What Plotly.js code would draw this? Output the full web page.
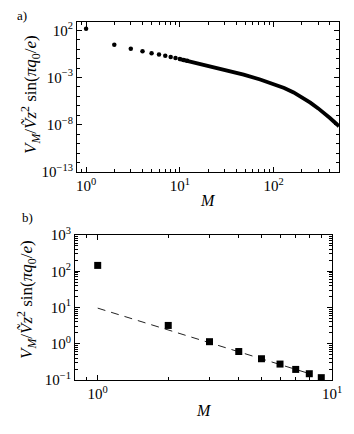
<!DOCTYPE html>
<html><head><meta charset="utf-8">
<script src="https://cdn.plot.ly/plotly-3.0.1.min.js"></script>
<style>html,body{margin:0;padding:0;background:#fff}</style>
</head><body><div id="chart" style="width:354px;height:434px"></div>
<script>
// Panel a): individual points (small M) and the dense continuation (merged dots)
const dotsM = [1, 2, 3, 4, 5, 6, 7, 8, 9, 10, 11, 12];
const dotsV = [145, 3.0, 1.12, 0.60, 0.38, 0.27, 0.20, 0.15, 0.117, 0.09, 0.074, 0.061];
const curveM = [10, 15, 21, 27, 35, 48, 72, 100, 130, 164, 200, 247, 300, 343, 400, 477, 500];
const curveV = [0.09, 0.0358, 0.0165, 0.00904, 0.00472, 0.00204, 6.3e-4, 2.19e-4, 7.66e-5, 2.63e-5, 8.65e-6, 2.19e-6, 5.41e-7, 1.9e-7, 5.22e-8, 1.07e-8, 6.82e-9];
// Panel b): squares and dashed guide line
const sqM = [1, 2, 3, 4, 5, 6, 7, 8, 9];
const sqV = [145, 3.2, 1.14, 0.61, 0.386, 0.275, 0.196, 0.149, 0.116];
const fitM = [1, 8.2];
const fitV = [9.6, 0.143];
// Tick labels
const aXTicks = [1, 10, 100];
const aXText = ['10<sup>0</sup>', '10<sup>1</sup>', '10<sup>2</sup>'];
const aYTicks = [1e-13, 1e-8, 1e-3, 1e2];
const aYText = ['10<sup>\u221213</sup>', '10<sup>\u22128</sup>', '10<sup>\u22123</sup>', '10<sup>2</sup>'];
const bXTicks = [1, 10];
const bXText = ['10<sup>0</sup>', '10<sup>1</sup>'];
const bYTicks = [0.1, 1, 10, 100, 1000];
const bYText = ['10<sup>\u22121</sup>', '10<sup>0</sup>', '10<sup>1</sup>', '10<sup>2</sup>', '10<sup>3</sup>'];

const W = 354, H = 434;
const FAM = 'Liberation Serif, DejaVu Serif, serif';

function minorLog(lo, hi) { // minor ticks 2..9 per decade between lo and hi
  const out = [];
  for (let d = -14; d <= 3; d++) for (let k = 2; k <= 9; k++) {
    const v = k * Math.pow(10, d);
    if (v >= lo * 0.999 && v <= hi * 1.001) out.push(v);
  }
  return out;
}
const aYMinor = [];
for (let d = -12; d <= 2; d++) { const v = Math.pow(10, d); if (!aYTicks.some(t => Math.abs(Math.log10(t) - d) < 1e-9)) aYMinor.push(v); }

function axisBase() {
  return {type: 'log', showline: true, linecolor: '#000', linewidth: 1, mirror: 'allticks',
    ticks: 'inside', ticklen: 5, tickwidth: 1, tickcolor: '#000', showgrid: false, zeroline: false,
    tickmode: 'array', tickfont: {family: FAM, size: 15, color: '#000'}};
}

const traces = [
  {x: curveM, y: curveV, xaxis: 'x', yaxis: 'y', mode: 'lines', line: {color: '#000', width: 3.8}, hoverinfo: 'skip'},
  {x: dotsM, y: dotsV, xaxis: 'x', yaxis: 'y', mode: 'markers', marker: {color: '#000', size: 4.5, symbol: 'circle'}},
  {x: fitM, y: fitV, xaxis: 'x2', yaxis: 'y2', mode: 'lines', line: {color: '#222', width: 1, dash: '8px,6px'}},
  {x: sqM, y: sqV, xaxis: 'x2', yaxis: 'y2', mode: 'markers', marker: {color: '#000', size: 7, symbol: 'square'}}
];

const xa = Object.assign(axisBase(), {domain: [77/W, 339/W], range: [Math.log10(0.8), Math.log10(500)], anchor: 'y',
  tickvals: aXTicks, ticktext: aXText, minor: {ticks: 'inside', ticklen: 3, tickcolor: '#000', tickmode: 'array', tickvals: minorLog(0.8, 500), showgrid: false}});
const ya = Object.assign(axisBase(), {domain: [1 - 172/H, 1 - 22/H], range: [-13, 2.88], anchor: 'x',
  tickvals: aYTicks, ticktext: aYText, minor: {ticks: 'inside', ticklen: 3, tickcolor: '#000', tickmode: 'array', tickvals: aYMinor, showgrid: false}});
const xb = Object.assign(axisBase(), {domain: [75/W, 332/W], range: [Math.log10(0.8), 1], anchor: 'y2',
  tickvals: bXTicks, ticktext: bXText, minor: {ticks: 'inside', ticklen: 3, tickcolor: '#000', tickmode: 'array', tickvals: minorLog(0.8, 10), showgrid: false}});
const yb = Object.assign(axisBase(), {domain: [1 - 380/H, 1 - 235/H], range: [-1, 3], anchor: 'x2',
  tickvals: bYTicks, ticktext: bYText, minor: {ticks: 'inside', ticklen: 3, tickcolor: '#000', tickmode: 'array', tickvals: minorLog(0.1, 1000), showgrid: false}});

const ytitle = '<i>V</i><sub><i>M</i></sub>/<i>\u1e7c</i><i>z</i><sup>2</sup> sin(<i>\u03c0q</i><sub>0</sub>/<i>e</i>)';
const ann = (text, x, y, size, angle) => ({text, x: x / W, y: 1 - y / H, xref: 'paper', yref: 'paper',
  showarrow: false, xanchor: 'center', yanchor: 'middle', textangle: angle || 0, font: {family: FAM, size, color: '#000'}});

const layout = {
  width: W, height: H, margin: {l: 0, r: 0, t: 0, b: 0}, showlegend: false,
  paper_bgcolor: '#fff', plot_bgcolor: '#fff', font: {family: FAM, size: 15, color: '#000'},
  xaxis: xa, yaxis: ya, xaxis2: xb, yaxis2: yb,
  annotations: [
    ann('a)', 22, 15, 13),
    ann('b)', 27, 217, 13),
    ann(ytitle, 30, 95, 17, -90),
    ann(ytitle, 26, 300, 17, -90),
    ann('<i>M</i>', 208, 201, 16),
    ann('<i>M</i>', 204, 410, 16)
  ]
};
Plotly.newPlot('chart', traces, layout, {staticPlot: true, displayModeBar: false});
</script></body></html>
